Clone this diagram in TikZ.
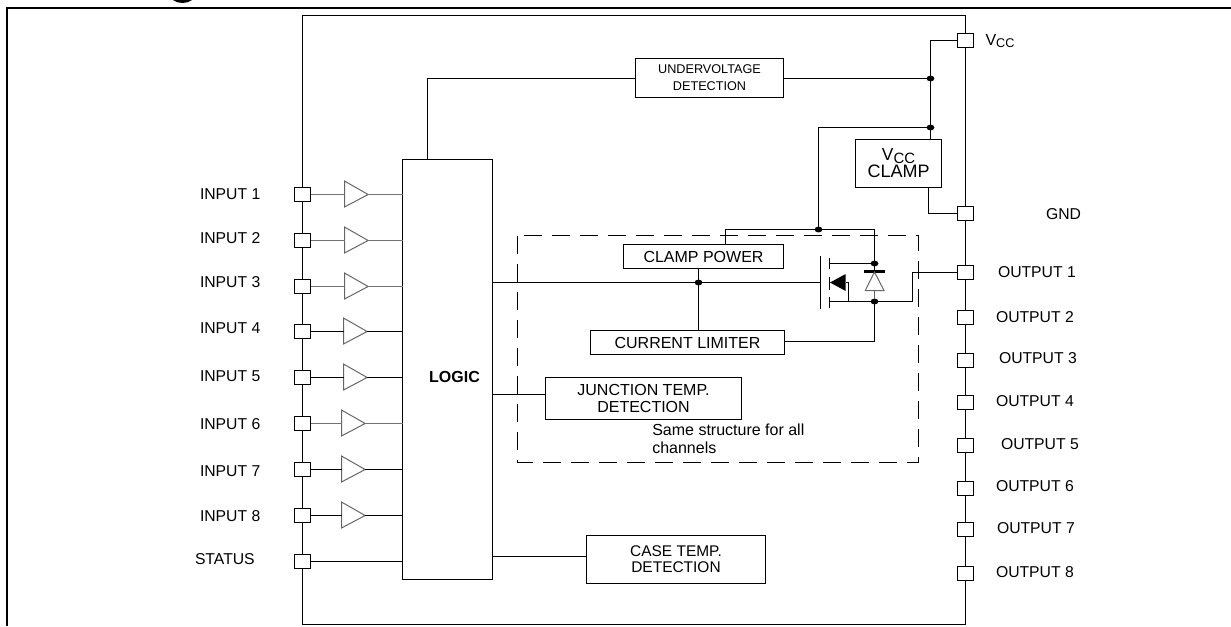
\documentclass[tikz,border=0pt]{standalone}
\usepackage{fontspec}
\setmainfont{Liberation Sans}
\usetikzlibrary{shapes.geometric}
\def\u{.75pt}
\newcommand\Vsub[3]{{\fontsize{#1}{#1}\selectfont V\raisebox{-.28ex}{\fontsize{#2}{#2}\selectfont #3}}}
\tikzset{
  wire/.style={line width=.8pt,black},
  soft/.style={line width=.8pt,black!55},
  pinbox/.style={draw,fill=white,line width=.8pt,rectangle,minimum width=16*\u,minimum height=14*\u,inner sep=0pt,outer sep=0pt},
  blk/.style={draw,line width=.8pt,rectangle,inner sep=0pt,outer sep=0pt,align=center,font=\fontsize{12}{12.9}\selectfont},
  lab/.style={anchor=west,inner sep=0pt,outer sep=0pt,font=\fontsize{11.8}{13}\selectfont},
  dotn/.style={ellipse,fill=black,minimum width=7.8*\u,minimum height=5.8*\u,inner sep=0pt,outer sep=0pt},
  amp/.style={line width=.75pt,black!60,line join=miter},
}
\begin{document}
\begin{tikzpicture}[x=.75pt,y=-.75pt]
\useasboundingbox (0,0) rectangle (1231,626);
\clip (0,0) rectangle (1231,626);
% page frame and clipped heading descender
\draw[line width=1.5pt] (7,626) -- (7,7.7) -- (1231,7.7);
\fill (173,0) .. controls (178,4) and (187,4) .. (192,0) -- cycle;
% package
\draw[wire] (302.5,624.5) -- (302.5,15.5) -- (965.5,15.5) -- (965.5,624.5) -- cycle;
% blocks
\node[blk,minimum width=90*\u,minimum height=420*\u] (logic) at (447.5,369.5) {};
\node[inner sep=0pt,font=\bfseries\fontsize{12}{13}\selectfont] (logictxt) at (454.5,377) {LOGIC};
\node[blk,minimum width=148*\u,minimum height=39*\u,font=\fontsize{9.5}{12.9}\selectfont] (uv) at (709.5,78) {UNDERVOLTAGE\\DETECTION};
\node[blk,minimum width=86*\u,minimum height=48*\u,font=\fontsize{13.5}{12.7}\selectfont] (vclamp) at (898.5,163.5) {\Vsub{13}{11.2}{CC}\\CLAMP};
\node[blk,minimum width=160*\u,minimum height=24*\u] (cp) at (703.5,256.5) {CLAMP POWER};
\node[blk,minimum width=194*\u,minimum height=24*\u] (cl) at (687.5,342.5) {CURRENT LIMITER};
\node[blk,minimum width=196*\u,minimum height=42*\u] (jt) at (643.5,398.5) {JUNCTION TEMP.\\DETECTION};
\node[blk,minimum width=179*\u,minimum height=48*\u,font=\fontsize{11.6}{12}\selectfont] (ct) at (676,559.5) {CASE TEMP.\\DETECTION};
\node[anchor=north west,inner sep=0pt,align=left,font=\fontsize{12}{12.9}\selectfont] (same) at (652,424) {Same structure for all\\channels};
% dashed channel outline
\draw[line width=.8pt,dash pattern=on 13.5pt off 7.5pt] (517.5,235.5) rectangle (918.5,462.5);
% left pins
\foreach \n/\y/\ax/\soft/\ly in {1/194.5/344.5/soft/194,2/240.5/344.5/soft/238,3/286.5/344.5/soft/282,4/331.5/343.5/wire/328,5/377.5/343.5/wire/376,6/423.5/341.5/soft/424,7/469.5/341.5/wire/471,8/515.5/341.5/wire/516}{
  \node[pinbox] (ip\n) at (302.5,\y) {};
  \node[lab] (il\n) at (200,\ly) {INPUT \n};
  \coordinate (ia\n) at (\ax,\y);
  \coordinate (io\n) at (\ax+23.6,\y);
  \draw[amp] (\ax,\y-13.5) -- (io\n) -- (\ax,\y+12.5) -- cycle;
  \draw[\soft] (ip\n.east) -- (ia\n);
  \draw[\soft] (io\n) -- (io\n -| logic.west);
}
\node[pinbox] (stp) at (302.5,561.5) {};
\node[lab] (stl) at (195,559) {STATUS};
\draw[wire] (stp.east) -- (stp.east -| logic.west);
% right pins
\node[pinbox] (vcc) at (965.5,40.5) {};
\node[lab] (vccl) at (985.5,41) {\Vsub{12}{9.5}{CC}};
\node[pinbox] (gnd) at (965.5,213.5) {};
\node[lab] (gndl) at (1046,214) {GND};
\foreach \n/\y/\lx/\ly in {1/272.5/998/272,2/317.5/996/316.7,3/360.5/999/358,4/402.5/996/400.7,5/445.5/1001/444,6/488.5/996/486,7/529.5/997/528,8/573.5/996/571.7}{
  \node[pinbox] (op\n) at (965.5,\y) {};
  \node[lab] (ol\n) at (\lx,\ly) {OUTPUT \n};
}
% junctions
\node[dotn] (d1) at (930.5,78.5) {};
\node[dotn] (d2) at (930.5,127.5) {};
\node[dotn] (d3) at (818.5,229.5) {};
\node[dotn] (d4) at (874.5,263.5) {};
\node[dotn] (d5) at (874.5,301.5) {};
\node[dotn] (d6) at (698.5,282.5) {};
% supply wiring
\draw[wire] (logic.north -| 427.5,0) -- (427.5,78.5) -- (uv.west |- d1);
\draw[wire] (uv.east |- d1) -- (d1);
\draw[wire] (vcc.west) -- (930.5,40.5) -- (d1);
\draw[wire] (d1) -- (d2);
\draw[wire] (d2) -- (d2 |- vclamp.north);
\draw[wire] (d2) -| (d3);
\draw[wire] (cp.north -| 725.5,0) |- (d3);
\draw[wire] (d3) -| (d4);
\coordinate (gt) at (928.5,213.5);
\draw[wire] (vclamp.south -| gt) |- (gnd.west);
% gate drive
\coordinate (gate) at (820.5,282.5);
\draw[wire] (d6 -| logic.east) -- (d6);
\draw[wire] (d6) -- (gate);
\draw[wire] (cp.south -| d6) -- (d6);
\draw[wire] (d6) -- (d6 |- cl.north);
\draw[wire] (logic.east |- 0,394.5) -- (jt.west |- 0,394.5);
\draw[wire] (logic.east |- 0,556.5) -- (ct.west |- 0,556.5);
% MOSFET
\draw[wire] (820.5,256) -- (820.5,308.5);
\draw[wire] (829.5,258) -- (829.5,269) (829.5,277) -- (829.5,290) (829.5,297) -- (829.5,308);
\draw[wire] (829.5,263.5) -- (d4);
\draw[wire] (829.5,301.5) -- (d5);
\fill (830,282.5) -- (845.7,274) -- (845.7,291) -- cycle;
\draw[wire] (845.7,282.5) -- (848.5,282.5) -- (848.5,301.5);
% clamp diode
\draw[line width=2.2pt] (864,271.5) -- (885,271.5);
\draw[wire] (d4) -- (874.5,271.5);
\draw[amp] (874.5,272) -- (884,290.5) -- (865.3,290.5) -- cycle;
\draw[amp] (874.5,290.5) -- (d5);
% output and limiter
\draw[wire] (d5) -- (912.5,301.5) -- (912.5,272.5) -- (op1.west);
\draw[wire] (d5) |- (cl.east |- 0,341.5);
\end{tikzpicture}
\end{document}
